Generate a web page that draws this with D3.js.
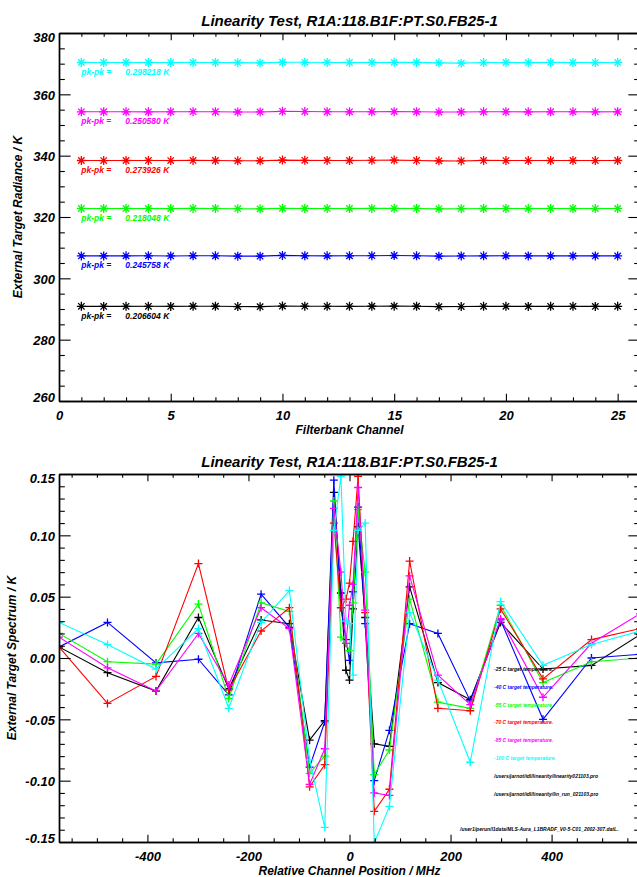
<!DOCTYPE html>
<html>
<head>
<meta charset="utf-8">
<script src="https://cdn.jsdelivr.net/npm/d3@7"></script>
<style>
body { margin: 0; background: #fff; }
svg { display: block; }
text { font-family: "Liberation Sans", Arial, sans-serif; font-weight: bold; font-style: italic; }
</style>
</head>
<body>
<svg id="chart" width="637" height="877"></svg>
<script>
// ---- top panel: radiance per filterbank channel
var channels = d3.range(1, 26);
var topColors = ["#00ffff", "#ff00ff", "#ff0000", "#00ff00", "#0000ff", "#000000"];
var radCyan = [370.38, 370.37, 370.38, 370.38, 370.36, 370.39, 370.40, 370.33, 370.25, 370.47, 370.44, 370.40, 370.37, 370.39, 370.43, 370.42, 370.27, 370.17, 370.36, 370.38, 370.33, 370.41, 370.37, 370.36, 370.39];
var radMagenta = [354.30, 354.31, 354.30, 354.29, 354.31, 354.34, 354.33, 354.24, 354.26, 354.45, 354.38, 354.33, 354.30, 354.31, 354.36, 354.32, 354.22, 354.25, 354.30, 354.31, 354.29, 354.31, 354.30, 354.29, 354.31];
var radRed = [338.42, 338.41, 338.43, 338.44, 338.40, 338.45, 338.42, 338.33, 338.35, 338.55, 338.47, 338.44, 338.43, 338.49, 338.56, 338.44, 338.31, 338.28, 338.45, 338.40, 338.41, 338.43, 338.42, 338.41, 338.42];
var radGreen = [322.78, 322.77, 322.78, 322.79, 322.76, 322.80, 322.79, 322.71, 322.65, 322.84, 322.78, 322.79, 322.77, 322.80, 322.82, 322.79, 322.66, 322.71, 322.77, 322.78, 322.76, 322.79, 322.77, 322.76, 322.78];
var radBlue = [307.32, 307.31, 307.33, 307.34, 307.30, 307.36, 307.34, 307.24, 307.23, 307.47, 307.36, 307.33, 307.34, 307.38, 307.44, 307.35, 307.24, 307.30, 307.33, 307.34, 307.31, 307.33, 307.32, 307.31, 307.32];
var radBlack = [290.86, 290.85, 290.87, 290.88, 290.84, 290.90, 290.89, 290.80, 290.76, 290.96, 290.91, 290.88, 290.87, 290.89, 290.93, 290.89, 290.77, 290.80, 290.87, 290.86, 290.85, 290.87, 290.86, 290.85, 290.86];
var pkpk = ["0.298218", "0.250580", "0.273926", "0.218048", "0.245758", "0.206604"];

// ---- bottom panel: spectrum vs relative channel position
var chanPos = [-575, -479, -383, -299, -239, -175, -119, -79, -49, -31, -17, -7, 0, 7, 17, 31, 49, 79, 119, 175, 239, 299, 383, 479, 575];
var specBlack = [0.009, -0.012, -0.027, 0.033, -0.025, 0.031, 0.028, -0.067, -0.051, 0.135, 0.053, -0.010, -0.018, 0.040, 0.107, 0.033, -0.070, -0.072, 0.058, -0.020, -0.034, 0.029, -0.009, -0.006, 0.019];
var specBlue = [0.009, 0.029, -0.004, -0.001, -0.030, 0.052, 0.025, -0.089, -0.052, 0.145, 0.041, 0.015, -0.002, 0.054, 0.123, 0.028, -0.100, -0.059, 0.028, 0.020, -0.035, 0.031, -0.050, 0.000, 0.003];
var specGreen = [0.020, -0.003, -0.005, 0.044, -0.033, 0.045, 0.038, -0.094, -0.080, 0.128, 0.017, 0.012, 0.006, 0.045, 0.121, 0.070, -0.095, -0.075, 0.048, -0.036, -0.041, 0.043, -0.020, -0.003, 0.000];
var specRed = [0.009, -0.037, -0.015, 0.077, -0.026, 0.022, 0.041, -0.105, -0.087, 0.110, 0.041, 0.048, 0.061, 0.095, 0.148, 0.037, -0.125, -0.107, 0.079, -0.041, -0.043, 0.040, -0.017, 0.015, 0.024];
var specMagenta = [0.017, -0.008, -0.027, 0.020, -0.022, 0.041, 0.024, -0.103, -0.074, 0.122, 0.070, 0.012, 0.043, 0.060, 0.139, 0.039, -0.110, -0.112, 0.067, -0.014, -0.038, 0.032, -0.032, 0.012, 0.036];
var specCyan = [0.029, 0.011, -0.009, 0.024, -0.041, 0.029, 0.055, -0.083, -0.138, 0.104, 0.148, 0.030, 0.028, -0.014, 0.104, 0.110, -0.151, -0.121, 0.037, -0.018, -0.085, 0.046, -0.006, 0.011, 0.022];
var specColors = ["#000000", "#0000ff", "#00ff00", "#ff0000", "#ff00ff", "#00ffff"];
var legendLabels = ["-25 C target temperature.", "-40 C target temperature.", "-55 C target temperature.",
  "-70 C target temperature.", "-85 C target temperature.", "-100 C target temperature."];
var fileLabels = ["/users/jarnot/idl/linearity/linearity021103.pro", "/users/jarnot/idl/linearity/lin_run_021103.pro"];
var dataFile = "/user1/perun/l1data/MLS-Aura_L1BRADF_V0-5-C01_2002-307.datL.";
var titleText = "Linearity Test, R1A:118.B1F:PT.S0.FB25-1";

var svg = d3.select("#chart");
var left = 59, right = 640;

function drawFrame(top, bottom, x, y, xMajor, xMinor, yMajor, yMinor, xFmt, yFmt) {
  var g = svg.append("g");
  var tlx = 0.02 * (bottom - top);
  var tly = 0.02 * (right - left);
  function put(axis, tx, ty) {
    var a = g.append("g").attr("transform", "translate(" + tx + "," + ty + ")").call(axis);
    a.attr("font-size", 13).attr("font-family", null);
    a.selectAll("line").attr("stroke-width", 1.1);
    a.selectAll(".domain").attr("stroke-width", 1.4);
    return a;
  }
  put(d3.axisBottom(x).tickValues(xMajor).tickSize(-tlx).tickSizeOuter(0).tickPadding(10).tickFormat(xFmt), 0, bottom);
  put(d3.axisBottom(x).tickValues(xMinor).tickSize(-tlx / 2).tickSizeOuter(0).tickFormat(""), 0, bottom);
  put(d3.axisTop(x).tickValues(xMajor).tickSize(-tlx).tickSizeOuter(0).tickFormat(""), 0, top);
  put(d3.axisTop(x).tickValues(xMinor).tickSize(-tlx / 2).tickSizeOuter(0).tickFormat(""), 0, top);
  var ay = put(d3.axisLeft(y).tickValues(yMajor).tickSize(-tly).tickSizeOuter(0).tickPadding(4).tickFormat(yFmt), left, 0);
  put(d3.axisLeft(y).tickValues(yMinor).tickSize(-tly / 2).tickSizeOuter(0).tickFormat(""), left, 0);
  put(d3.axisRight(y).tickValues(yMajor).tickSize(-tly).tickSizeOuter(0).tickFormat(""), right, 0);
  put(d3.axisRight(y).tickValues(yMinor).tickSize(-tly / 2).tickSizeOuter(0).tickFormat(""), right, 0);
  // keep end labels inside the frame, like IDL does
  var lo = d3.min(y.domain()), hi = d3.max(y.domain());
  ay.selectAll("text").attr("dy", function (d) {
    if (Math.abs(d - hi) < 1e-9) return "0.69em";
    if (Math.abs(d - lo) < 1e-9) return "0em";
    return "0.37em";
  });
  return g;
}

function clipRect(id, top, bottom) {
  svg.append("clipPath").attr("id", id).append("rect")
    .attr("x", left).attr("y", top).attr("width", right - left).attr("height", bottom - top);
}

// ===== top panel =====
var t0 = 33, t1 = 401;
var xTop = d3.scaleLinear().domain([0, 26]).range([left, right]);
var yTop = d3.scaleLinear().domain([260, 380]).range([t1, t0]);
clipRect("clipTop", t0, t1);
var topSeries = [radCyan, radMagenta, radRed, radGreen, radBlue, radBlack];
var lineTop = d3.line().x(function (d, i) { return xTop(channels[i]); }).y(function (d) { return yTop(d); });
var gTop = svg.append("g").attr("clip-path", "url(#clipTop)");
var star = "M0,-4.5V4.5M-4.5,0H4.5M-3.2,-3.2L3.2,3.2M-3.2,3.2L3.2,-3.2";
topSeries.forEach(function (s, k) {
  gTop.append("path").attr("d", lineTop(s)).attr("fill", "none").attr("stroke", topColors[k]).attr("stroke-width", 1.1);
  gTop.selectAll(null).data(s).enter().append("path")
    .attr("d", star)
    .attr("transform", function (d, i) { return "translate(" + xTop(channels[i]) + "," + yTop(d) + ")"; })
    .attr("stroke", topColors[k]).attr("stroke-width", 1.3).attr("fill", "none");
  var ly = yTop(d3.mean(s)) + 12.5;
  svg.append("text").attr("x", xTop(channels[0])).attr("y", ly).attr("font-size", 8.5).attr("fill", topColors[k]).text("pk-pk =");
  svg.append("text").attr("x", xTop(channels[0]) + 44).attr("y", ly).attr("font-size", 8.5).attr("fill", topColors[k]).text(pkpk[k] + " K");
});
drawFrame(t0, t1, xTop, yTop, d3.range(0, 26, 5), d3.range(1, 27).filter(function (v) { return v % 5 !== 0; }),
  d3.range(260, 381, 20), d3.range(260, 381, 5).filter(function (v) { return v % 20 !== 0; }),
  function (v) { return String(v); }, function (v) { return String(v); });
svg.append("text").attr("x", (left + right) / 2).attr("y", 26).attr("text-anchor", "middle").attr("font-size", 15).text(titleText);
svg.append("text").attr("x", (left + right) / 2).attr("y", 434).attr("text-anchor", "middle").attr("font-size", 12).text("Filterbank Channel");
svg.append("text").attr("transform", "translate(22," + (t0 + t1) / 2 + ") rotate(-90)").attr("text-anchor", "middle").attr("font-size", 12).text("External Target Radiance / K");

// ===== bottom panel =====
var b0 = 474, b1 = 842;
var xBot = d3.scaleLinear().domain([-575, 575]).range([left, right]);
var yBot = d3.scaleLinear().domain([-0.15, 0.15]).range([b1, b0]);
clipRect("clipBot", b0, b1);
var botSeries = [specBlack, specBlue, specGreen, specRed, specMagenta, specCyan];
var lineBot = d3.line().x(function (d, i) { return xBot(chanPos[i]); }).y(function (d) { return yBot(d); });
var gBot = svg.append("g").attr("clip-path", "url(#clipBot)");
var plus = "M-4,0H4M0,-4V4";
botSeries.forEach(function (s, k) {
  gBot.append("path").attr("d", lineBot(s)).attr("fill", "none").attr("stroke", specColors[k]).attr("stroke-width", 1.1);
  gBot.selectAll(null).data(s).enter().append("path")
    .attr("d", plus)
    .attr("transform", function (d, i) { return "translate(" + xBot(chanPos[i]) + "," + yBot(d) + ")"; })
    .attr("stroke", specColors[k]).attr("stroke-width", 1.3).attr("fill", "none");
});
drawFrame(b0, b1, xBot, yBot, [-400, -200, 0, 200, 400], d3.range(-550, 551, 50).filter(function (v) { return v % 200 !== 0; }),
  [-0.15, -0.10, -0.05, 0, 0.05, 0.10, 0.15], d3.range(-15, 16).filter(function (v) { return v % 5 !== 0; }).map(function (v) { return v / 100; }),
  function (v) { return String(v); }, function (v) { return v.toFixed(2); });
svg.append("text").attr("x", (left + right) / 2).attr("y", 466.5).attr("text-anchor", "middle").attr("font-size", 15).text(titleText);
svg.append("text").attr("x", (left + right) / 2).attr("y", 875).attr("text-anchor", "middle").attr("font-size", 12).text("Relative Channel Position / MHz");
svg.append("text").attr("transform", "translate(16," + (b0 + b1) / 2 + ") rotate(-90)").attr("text-anchor", "middle").attr("font-size", 12).text("External Target Spectrum / K");

// legend / annotations
legendLabels.forEach(function (t, k) {
  svg.append("text").attr("x", 494).attr("y", 671 + k * 17.8).attr("font-size", 5).attr("fill", specColors[k]).text(t);
});
fileLabels.forEach(function (t, k) {
  svg.append("text").attr("x", 494).attr("y", 671 + (6 + k) * 17.8).attr("font-size", 5).attr("fill", "#000").text(t);
});
svg.append("text").attr("x", 460).attr("y", 831).attr("font-size", 5).attr("fill", "#000").text(dataFile);
</script>
</body>
</html>
